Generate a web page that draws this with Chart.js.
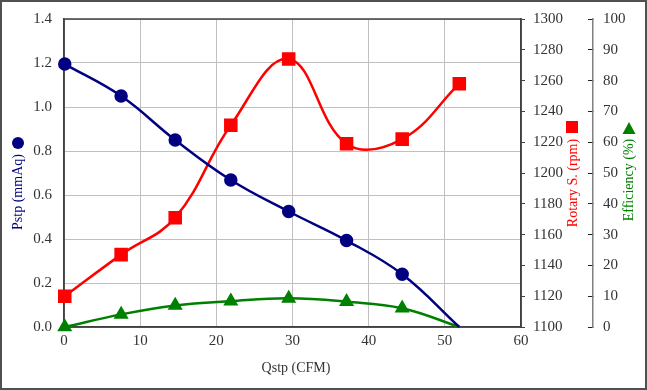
<!DOCTYPE html>
<html>
<head>
<meta charset="utf-8">
<script src="https://cdn.jsdelivr.net/npm/chart.js@4"></script>
<style>
  body { margin: 0; background: #fff; }
  canvas { display: block; }
</style>
</head>
<body>
<canvas id="fanChart" width="647" height="390"></canvas>
<script>
// Qstp (CFM) for each measured point
const qstp = [0.1, 7.5, 14.6, 21.9, 29.5, 37.1, 44.4, 51.9];
// Pstp (mmAq)
const pstp = [1.195, 1.05, 0.85, 0.668, 0.525, 0.393, 0.24, 0];
// Rotary speed (rpm)
const rpm = [1120, 1147, 1171, 1231, 1274, 1219, 1222, 1258];
// Efficiency (%)
const eff = [0, 4.1, 7.0, 8.4, 9.3, 8.2, 6.1, 0];

const serif = '"Liberation Serif", "Times New Roman", serif';
const textColor = '#333';

function points(ys) {
    return qstp.map((x, i) => ({ x: x, y: ys[i] }));
}

// frame, axis titles and their little marker glyphs
const decorations = {
    id: 'decorations',
    beforeDatasetsDraw(chart) {
        const { ctx, chartArea: a } = chart;
        ctx.save();
        ctx.strokeStyle = '#404040';
        ctx.lineWidth = 1.5;
        ctx.strokeRect(a.left, a.top, a.right - a.left, a.bottom - a.top);
        ctx.restore();
    },
    afterDraw(chart) {
        const ctx = chart.ctx;
        ctx.save();
        ctx.font = '14px ' + serif;
        ctx.textAlign = 'center';
        ctx.textBaseline = 'middle';

        ctx.fillStyle = textColor;
        ctx.fillText('Qstp (CFM)', 296, 368);

        const vert = (text, x, y, color) => {
            ctx.save();
            ctx.translate(x, y);
            ctx.rotate(-Math.PI / 2);
            ctx.fillStyle = color;
            ctx.fillText(text, 0, 0);
            ctx.restore();
        };
        vert('Pstp (mmAq)', 18, 192, '#000080');
        vert('Rotary S. (rpm)', 573, 183, '#ff0000');
        vert('Efficiency (%)', 629, 180, '#008000');

        // marker glyphs
        ctx.fillStyle = '#000080';
        ctx.beginPath();
        ctx.arc(18, 143, 6, 0, Math.PI * 2);
        ctx.fill();

        ctx.fillStyle = '#ff0000';
        ctx.fillRect(566, 121, 12, 12);

        ctx.fillStyle = '#008000';
        ctx.beginPath();
        ctx.moveTo(629, 122);
        ctx.lineTo(635.5, 134);
        ctx.lineTo(622.5, 134);
        ctx.closePath();
        ctx.fill();

        // outer frame of the picture
        ctx.strokeStyle = '#505050';
        ctx.lineWidth = 2;
        ctx.strokeRect(1, 1, 645, 388);
        ctx.restore();
    }
};

new Chart(document.getElementById('fanChart'), {
    type: 'scatter',
    data: {
        datasets: [{
            label: 'Pstp',
            data: points(pstp),
            showLine: true,
            yAxisID: 'y',
            borderColor: '#000080',
            backgroundColor: '#000080',
            borderWidth: 2.5,
            tension: 0.4,
            pointStyle: 'circle',
            pointRadius: [5.5, 5.5, 5.5, 5.5, 5.5, 5.5, 5.5, 0],
            clip: false
        }, {
            label: 'Rotary S.',
            data: points(rpm),
            showLine: true,
            yAxisID: 'y1',
            borderColor: '#ff0000',
            backgroundColor: '#ff0000',
            borderWidth: 2.5,
            tension: 0.4,
            pointStyle: 'rect',
            pointRadius: 7.8,
            clip: false
        }, {
            label: 'Efficiency',
            data: points(eff),
            showLine: true,
            yAxisID: 'y2',
            borderColor: '#008000',
            backgroundColor: '#008000',
            borderWidth: 2.5,
            tension: 0.4,
            pointStyle: 'triangle',
            pointRadius: [6.2, 6.2, 6.2, 6.2, 6.2, 6.2, 6.2, 0],
            clip: false
        }]
    },
    options: {
        responsive: false,
        animation: false,
        layout: { padding: { top: 19, left: 0, right: 0, bottom: 0 } },
        plugins: {
            legend: { display: false },
            tooltip: { enabled: false }
        },
        scales: {
            x: {
                type: 'linear',
                min: 0,
                max: 60,
                ticks: { stepSize: 10, padding: 5, color: textColor, font: { family: serif, size: 15 } },
                grid: { color: '#c0c0c0', drawTicks: false },
                border: { color: '#404040', width: 1.5 },
                afterFit(s) { s.height = 63; }
            },
            y: {
                position: 'left',
                min: 0,
                max: 1.4,
                ticks: {
                    stepSize: 0.2,
                    padding: 12,
                    color: textColor,
                    font: { family: serif, size: 15, lineHeight: 0.8 },
                    callback: v => v.toFixed(1)
                },
                grid: { color: '#c0c0c0', drawTicks: false },
                border: { color: '#404040', width: 1.5 },
                afterFit(s) { s.width = 64; }
            },
            y1: {
                position: 'right',
                min: 1100,
                max: 1300,
                ticks: {
                    stepSize: 20,
                    padding: 8,
                    color: textColor,
                    font: { family: serif, size: 15, lineHeight: 0.8 },
                    callback: v => String(v)
                },
                grid: { drawOnChartArea: false, tickLength: 4, color: '#404040' },
                border: { color: '#404040', width: 1.5 },
                afterFit(s) { s.width = 72; }
            },
            y2: {
                position: 'right',
                min: 0,
                max: 100,
                ticks: {
                    stepSize: 10,
                    padding: 15,
                    color: textColor,
                    font: { family: serif, size: 15, lineHeight: 0.5 }
                },
                grid: { drawOnChartArea: false, tickLength: -5, color: '#202020' },
                border: { color: '#808080', width: 1.5 },
                afterFit(s) { s.width = 54; }
            }
        }
    },
    plugins: [decorations]
});
</script>
</body>
</html>
